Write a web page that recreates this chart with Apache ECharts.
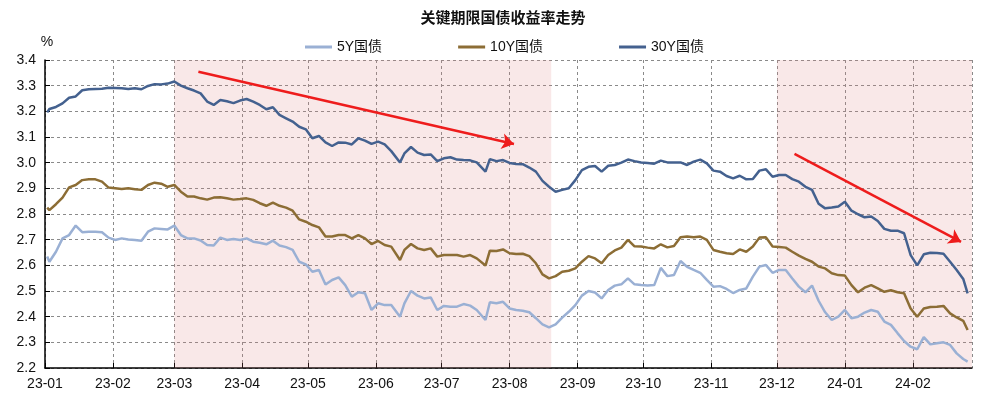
<!DOCTYPE html>
<html>
<head>
<meta charset="utf-8">
<script src="https://cdn.jsdelivr.net/npm/echarts@6/dist/echarts.min.js"></script>
<style>
  html, body { margin: 0; padding: 0; background: #fff; }
  #chart { width: 1006px; height: 400px; }
</style>
</head>
<body>
<div id="chart"></div>
<script>
const dates = [
  "2023-01-02", "2023-01-03", "2023-01-06", "2023-01-09", "2023-01-12", "2023-01-15", "2023-01-18", "2023-01-21",
  "2023-01-24", "2023-01-27", "2023-01-30", "2023-02-02", "2023-02-05", "2023-02-08", "2023-02-11", "2023-02-14",
  "2023-02-17", "2023-02-20", "2023-02-23", "2023-02-26", "2023-03-01", "2023-03-04", "2023-03-07", "2023-03-10",
  "2023-03-13", "2023-03-16", "2023-03-19", "2023-03-22", "2023-03-25", "2023-03-28", "2023-03-31", "2023-04-03",
  "2023-04-06", "2023-04-09", "2023-04-12", "2023-04-15", "2023-04-18", "2023-04-21", "2023-04-24", "2023-04-27",
  "2023-04-30", "2023-05-03", "2023-05-06", "2023-05-09", "2023-05-12", "2023-05-15", "2023-05-18", "2023-05-21",
  "2023-05-24", "2023-05-27", "2023-05-30", "2023-06-02", "2023-06-05", "2023-06-08", "2023-06-12", "2023-06-14",
  "2023-06-17", "2023-06-20", "2023-06-23", "2023-06-26", "2023-06-29", "2023-07-02", "2023-07-05", "2023-07-08",
  "2023-07-11", "2023-07-14", "2023-07-17", "2023-07-21", "2023-07-23", "2023-07-26", "2023-07-29", "2023-08-01",
  "2023-08-04", "2023-08-07", "2023-08-10", "2023-08-13", "2023-08-16", "2023-08-19", "2023-08-22", "2023-08-25",
  "2023-08-28", "2023-08-31", "2023-09-03", "2023-09-06", "2023-09-09", "2023-09-12", "2023-09-15", "2023-09-18",
  "2023-09-21", "2023-09-24", "2023-09-27", "2023-09-30", "2023-10-03", "2023-10-06", "2023-10-09", "2023-10-12",
  "2023-10-15", "2023-10-18", "2023-10-21", "2023-10-24", "2023-10-27", "2023-10-30", "2023-11-02", "2023-11-05",
  "2023-11-08", "2023-11-11", "2023-11-14", "2023-11-17", "2023-11-20", "2023-11-23", "2023-11-26", "2023-11-29",
  "2023-12-02", "2023-12-05", "2023-12-08", "2023-12-11", "2023-12-14", "2023-12-17", "2023-12-20", "2023-12-23",
  "2023-12-26", "2023-12-29", "2024-01-01", "2024-01-04", "2024-01-07", "2024-01-10", "2024-01-13", "2024-01-16",
  "2024-01-19", "2024-01-22", "2024-01-25", "2024-01-28", "2024-01-31", "2024-02-03", "2024-02-06", "2024-02-09",
  "2024-02-12", "2024-02-15", "2024-02-18", "2024-02-21", "2024-02-24", "2024-02-26"
];

const y30 = [
  3.196, 3.209, 3.217, 3.231, 3.253, 3.258, 3.282, 3.286, 3.287, 3.288, 3.292, 3.291, 3.290, 3.287, 3.290, 3.286,
  3.299, 3.306, 3.305, 3.308, 3.316, 3.300, 3.290, 3.281, 3.270, 3.238, 3.225, 3.244, 3.239, 3.232, 3.242, 3.248,
  3.238, 3.225, 3.208, 3.216, 3.186, 3.173, 3.160, 3.140, 3.130, 3.095, 3.104, 3.079, 3.065, 3.079, 3.078, 3.071,
  3.095, 3.086, 3.073, 3.082, 3.071, 3.045, 3.001, 3.036, 3.061, 3.039, 3.030, 3.032, 3.006, 3.017, 3.021, 3.012,
  3.010, 3.009, 3.001, 2.965, 3.014, 3.006, 3.010, 2.999, 2.995, 2.994, 2.981, 2.965, 2.929, 2.906, 2.887, 2.894,
  2.900, 2.932, 2.971, 2.984, 2.987, 2.965, 2.988, 2.991, 3.000, 3.012, 3.006, 3.001, 2.999, 2.996, 3.008, 3.001,
  3.001, 3.001, 2.991, 3.004, 3.012, 2.997, 2.969, 2.965, 2.948, 2.939, 2.949, 2.935, 2.936, 2.969, 2.974, 2.945,
  2.952, 2.952, 2.936, 2.926, 2.906, 2.894, 2.840, 2.822, 2.825, 2.829, 2.848, 2.813, 2.799, 2.787, 2.790, 2.773,
  2.742, 2.735, 2.735, 2.725, 2.640, 2.600, 2.643, 2.649, 2.648, 2.645, 2.614, 2.582, 2.547, 2.491
];

const y10 = [
  2.825, 2.815, 2.838, 2.864, 2.904, 2.913, 2.932, 2.935, 2.935, 2.926, 2.903, 2.900, 2.897, 2.900, 2.896, 2.894,
  2.913, 2.922, 2.918, 2.906, 2.913, 2.887, 2.868, 2.868, 2.861, 2.856, 2.864, 2.865, 2.861, 2.856, 2.858, 2.861,
  2.855, 2.842, 2.832, 2.844, 2.832, 2.825, 2.813, 2.779, 2.770, 2.757, 2.748, 2.712, 2.712, 2.718, 2.718, 2.705,
  2.718, 2.705, 2.683, 2.695, 2.679, 2.673, 2.621, 2.660, 2.683, 2.666, 2.660, 2.666, 2.634, 2.640, 2.640, 2.640,
  2.634, 2.640, 2.627, 2.599, 2.657, 2.656, 2.662, 2.647, 2.644, 2.645, 2.636, 2.608, 2.565, 2.549, 2.558, 2.575,
  2.579, 2.588, 2.614, 2.636, 2.627, 2.608, 2.640, 2.658, 2.669, 2.699, 2.674, 2.673, 2.669, 2.666, 2.682, 2.670,
  2.675, 2.709, 2.712, 2.709, 2.712, 2.699, 2.660, 2.653, 2.647, 2.644, 2.662, 2.653, 2.673, 2.708, 2.709, 2.673,
  2.671, 2.669, 2.653, 2.638, 2.625, 2.614, 2.595, 2.588, 2.569, 2.562, 2.560, 2.523, 2.495, 2.513, 2.523, 2.510,
  2.497, 2.503, 2.495, 2.491, 2.432, 2.400, 2.432, 2.438, 2.439, 2.442, 2.413, 2.397, 2.384, 2.348
];

const y5 = [
  2.634, 2.614, 2.653, 2.705, 2.718, 2.755, 2.729, 2.731, 2.731, 2.729, 2.708, 2.699, 2.705, 2.701, 2.699, 2.696,
  2.731, 2.744, 2.742, 2.740, 2.755, 2.718, 2.705, 2.705, 2.697, 2.679, 2.677, 2.708, 2.699, 2.703, 2.699, 2.705,
  2.692, 2.688, 2.682, 2.696, 2.677, 2.671, 2.660, 2.614, 2.604, 2.575, 2.582, 2.525, 2.543, 2.553, 2.523, 2.478,
  2.495, 2.491, 2.426, 2.452, 2.445, 2.445, 2.400, 2.452, 2.500, 2.482, 2.471, 2.475, 2.426, 2.442, 2.439, 2.439,
  2.449, 2.443, 2.426, 2.387, 2.456, 2.452, 2.458, 2.432, 2.426, 2.423, 2.417, 2.394, 2.370, 2.358, 2.370, 2.396,
  2.419, 2.445, 2.482, 2.500, 2.494, 2.471, 2.504, 2.521, 2.526, 2.549, 2.526, 2.523, 2.521, 2.523, 2.590, 2.558,
  2.562, 2.617, 2.594, 2.582, 2.571, 2.543, 2.517, 2.519, 2.508, 2.492, 2.504, 2.510, 2.556, 2.595, 2.601, 2.571,
  2.582, 2.582, 2.549, 2.517, 2.495, 2.521, 2.462, 2.417, 2.387, 2.400, 2.426, 2.394, 2.400, 2.416, 2.426, 2.419,
  2.381, 2.368, 2.336, 2.305, 2.283, 2.273, 2.320, 2.292, 2.296, 2.300, 2.290, 2.257, 2.235, 2.225
];

const shadeRanges = [
  ["2023-03-01", "2023-08-20"],
  ["2023-12-01", "2024-02-28"]
];

// red trend arrows: [start date, start value, end date, end value]
const arrows = [
  ["2023-03-12", 3.354, "2023-08-03", 3.073],
  ["2023-12-09", 3.034, "2024-02-23", 2.691]
];

const t = s => new Date(s + "T00:00:00").getTime();
const pad = n => (n < 10 ? "0" + n : "" + n);
const font = "'Liberation Sans', Arial, 'Noto Sans CJK SC', sans-serif";

const chart = echarts.init(document.getElementById("chart"));

const toSeries = vals => dates.map((d, i) => [t(d), vals[i]]);

const option = {
  backgroundColor: "#fff",
  animation: false,
  textStyle: { fontFamily: font },
  title: {
    text: "关键期限国债收益率走势",
    left: "center",
    top: 10,
    padding: 0,
    textStyle: { fontSize: 15, fontWeight: "bold", color: "#111", fontFamily: "'Noto Sans CJK SC', sans-serif" }
  },
  legend: {
    left: 300,
    top: 35,
    itemWidth: 27,
    itemHeight: 3,
    itemGap: 76,
    icon: "rect",
    textStyle: { fontSize: 14, color: "#111", fontFamily: font },
    data: ["5Y国债", "10Y国债", "30Y国债"]
  },
  grid: { left: 45, right: 34, top: 60, bottom: 32 },
  xAxis: {
    type: "time",
    min: t("2023-01-01"),
    max: t("2024-02-28"),
    splitNumber: 14,
    minInterval: 28 * 24 * 3600 * 1000,
    maxInterval: 31 * 24 * 3600 * 1000,
    axisLine: { lineStyle: { color: "#000", width: 1.5 } },
    axisTick: { show: true, inside: true, length: 5, lineStyle: { color: "#000" } },
    axisLabel: {
      fontSize: 14,
      color: "#111",
      margin: 9,
      showMaxLabel: false,
      formatter: v => {
        const d = new Date(v);
        return String(d.getFullYear()).slice(2) + "-" + pad(d.getMonth() + 1);
      }
    },
    splitLine: { show: true, lineStyle: { color: "#8a8a8a", type: [3, 3], width: 1 } }
  },
  yAxis: {
    type: "value",
    min: 2.2,
    max: 3.4,
    interval: 0.1,
    name: "%",
    nameLocation: "end",
    nameGap: 11,
    nameTextStyle: { fontSize: 14, color: "#111", padding: [0, 0, 0, 4] },
    axisLine: { show: true, lineStyle: { color: "#000", width: 1.5 } },
    axisTick: { show: true, inside: true, length: 5, lineStyle: { color: "#000" } },
    axisLabel: { fontSize: 14, color: "#111", margin: 9, formatter: v => v.toFixed(1) },
    splitLine: { show: true, lineStyle: { color: "#8a8a8a", type: [3, 3], width: 1 } }
  },
  series: [
    {
      name: "5Y国债",
      type: "line",
      data: toSeries(y5),
      showSymbol: false,
      lineStyle: { color: "#9ab0d4", width: 2.5 },
      itemStyle: { color: "#9ab0d4" },
      markArea: {
        silent: true,
        itemStyle: { color: "rgba(220, 130, 130, 0.18)" },
        data: shadeRanges.map(r => [{ xAxis: t(r[0]) }, { xAxis: t(r[1]) }])
      }
    },
    {
      name: "10Y国债",
      type: "line",
      data: toSeries(y10),
      showSymbol: false,
      lineStyle: { color: "#8c6d35", width: 2.5 },
      itemStyle: { color: "#8c6d35" }
    },
    {
      name: "30Y国债",
      type: "line",
      data: toSeries(y30),
      showSymbol: false,
      lineStyle: { color: "#44618f", width: 2.5 },
      itemStyle: { color: "#44618f" },
      markLine: {
        silent: true,
        symbol: ["none", "arrow"],
        symbolSize: 12,
        label: { show: false },
        lineStyle: { color: "#ee1c1c", width: 2.5, type: "solid" },
        data: arrows.map(a => [{ coord: [t(a[0]), a[1]] }, { coord: [t(a[2]), a[3]] }])
      }
    }
  ]
};

chart.setOption(option);
</script>
</body>
</html>
